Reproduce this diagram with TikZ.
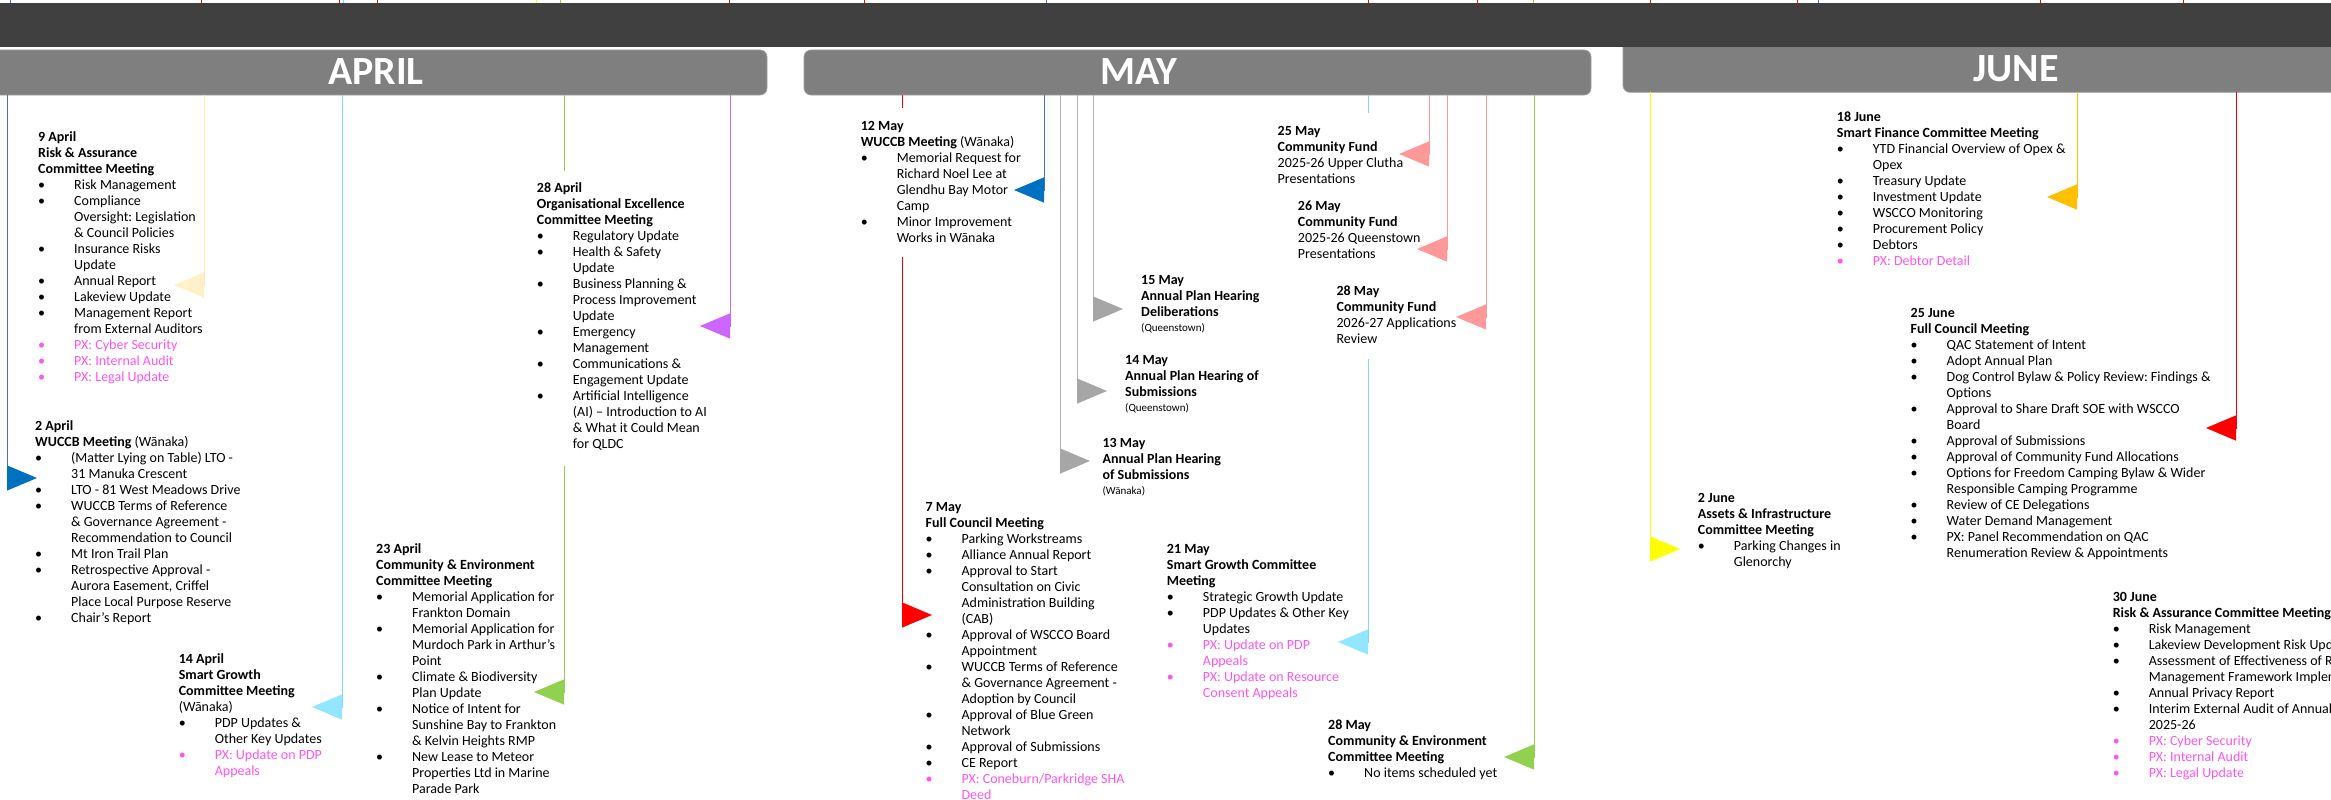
\documentclass[tikz,border=0pt]{standalone}
\usepackage{fontspec}
\setmainfont{Carlito}
\usetikzlibrary{arrows.meta}
\frenchspacing

\definecolor{darkbar}{HTML}{404040}
\definecolor{barg}{HTML}{7F7F7F}
\definecolor{pxpink}{HTML}{FF55EE}
\definecolor{blueline}{HTML}{4472C4}
\definecolor{bluetri}{HTML}{0070C0}
\definecolor{creamline}{HTML}{FFE9A8}
\definecolor{creamtri}{HTML}{FFF0C8}
\definecolor{cyanline}{HTML}{7FDBF5}
\definecolor{cyantri}{HTML}{92E6FF}
\definecolor{leaf}{HTML}{92D050}
\definecolor{lilac}{HTML}{CC66FF}
\definecolor{greyline}{HTML}{B4B4B4}
\definecolor{greytri}{HTML}{A6A6A6}
\definecolor{salmon}{HTML}{FF9999}
\definecolor{lemon}{HTML}{FFFF00}
\definecolor{amber}{HTML}{FFC000}
\definecolor{alarm}{HTML}{FF0000}

\newcommand{\bul}{\makebox[36pt][l]{\textbullet}}
\newcommand{\contd}{\hspace*{36pt}}
\newcommand{\px}[1]{{\color{pxpink}\bul #1}}
\newcommand{\venue}[1]{{\fontsize{11}{13}\selectfont #1}}

\tikzset{
  monthbar/.style={fill=barg, draw=barg!75!white, line width=0.8pt, rounded corners=7pt},
  monthlbl/.style={text=white, inner sep=0pt, font=\fontsize{40}{44}\selectfont\bfseries},
  evt/.style={anchor=base west, inner sep=0pt, font=\fontsize{14}{16}\selectfont},
  link/.style 2 args={draw=#1, line width=1pt, -{Triangle[length=30pt,width=25pt,color=#2]}},
}

\begin{document}
\begin{tikzpicture}[x=1pt,y=-1pt]
\useasboundingbox (0,0) rectangle (2331,800);
\clip (0,0) rectangle (2331,800);

% header strip and month bars
\foreach \x/\c in {10/blueline,201/alarm,339/alarm,343/cyanline,377/alarm,536/lemon,560/leaf,729/alarm,864/alarm,1046/blueline,1368/alarm,1477/alarm,1533/leaf,1650/alarm,1797/alarm,1818/blueline,2040/alarm,2183/alarm}
  \draw[\c, line width=1pt] (\x,0) -- (\x,3);
\fill[monthbar] (-40,50) rectangle (767,95);
\fill[monthbar] (804,50) rectangle (1591,95);
\fill[monthbar] (1623,30) rectangle (2420,92.3);
\fill[darkbar] (-5,3) rectangle (2340,47.3);

\node[monthlbl] (april) at (376,71.3) {APRIL};
\node[monthlbl] (may) at (1139,71.3) {MAY};
\node[monthlbl] (june) at (2016,68.3) {JUNE};

% connectors running down from the bars
\foreach \x/\ya/\yb/\side/\lc/\tc [count=\i] in {
  7/95/478/1/blueline/bluetri,
  204/95/285/-1/creamline/creamtri,
  342/95/707/-1/cyanline/cyantri,
  730/95/326/-1/lilac/lilac,
  1044/95/190/-1/blueline/bluetri,
  1093/95/309/1/greyline/greytri,
  1077/95/391/1/greyline/greytri,
  1060/95/461/1/greyline/greytri,
  1429/95/154/-1/salmon/salmon,
  1447/95/249/-1/salmon/salmon,
  1486/95/317/-1/salmon/salmon,
  1534/95/757/-1/leaf/leaf,
  1650/92.3/549/1/lemon/lemon,
  2077/92.3/197/-1/amber/amber,
  2236/92.3/428/-1/alarm/alarm}
{
  \coordinate (top\i) at (\x,\ya);
  \coordinate (bend\i) at (\x,\yb);
  \coordinate (tip\i) at ({\x+30*\side},\yb);
  \draw[link={\lc}{\tc}] (top\i) -- (bend\i) -- (tip\i);
}

% connectors that pass behind a text box
\coordinate (fcA) at (902,95);
\coordinate (fcB) at (902,108);
\coordinate (fcC) at (902,257);
\coordinate (fcD) at (902,615);
\coordinate (fcTip) at (932,615);
\draw[link={alarm}{alarm}] (fcA) -- (fcB) (fcC) -- (fcD) -- (fcTip);

\coordinate (ceA) at (564,95);
\coordinate (ceB) at (564,171);
\coordinate (ceC) at (564,466);
\coordinate (ceD) at (564,692);
\coordinate (ceTip) at (534,692);
\draw[link={leaf}{leaf}] (ceA) -- (ceB) (ceC) -- (ceD) -- (ceTip);

\coordinate (sgA) at (1368,95);
\coordinate (sgB) at (1368,113);
\coordinate (sgC) at (1368,359);
\coordinate (sgD) at (1368,642);
\coordinate (sgTip) at (1338,642);
\draw[link={cyanline}{cyantri}] (sgA) -- (sgB) (sgC) -- (sgD) -- (sgTip);

% April
\node[evt] (apr09) at (38,141.5) {\parbox[t]{400pt}{%
\textbf{9 April}\\
\textbf{Risk \& Assurance}\\
\textbf{Committee Meeting}\\
\bul Risk Management\\
\bul Compliance\\
\contd Oversight: Legislation\\
\contd \& Council Policies\\
\bul Insurance Risks\\
\contd Update\\
\bul Annual Report\\
\bul Lakeview Update\\
\bul Management Report\\
\contd from External Auditors\\
\px{PX: Cyber Security}\\
\px{PX: Internal Audit}\\
\px{PX: Legal Update}}};

\node[evt] (apr02) at (35,430.7) {\parbox[t]{400pt}{%
\textbf{2 April}\\
\textbf{WUCCB Meeting} (Wānaka)\\
\bul (Matter Lying on Table) LTO -\\
\contd 31 Manuka Crescent\\
\bul LTO - 81 West Meadows Drive\\
\bul WUCCB Terms of Reference\\
\contd \& Governance Agreement -\\
\contd Recommendation to Council\\
\bul Mt Iron Trail Plan\\
\bul Retrospective Approval -\\
\contd Aurora Easement, Criffel\\
\contd Place Local Purpose Reserve\\
\bul Chair’s Report}};

\node[evt] (apr14) at (178.6,663.7) {\parbox[t]{400pt}{%
\textbf{14 April}\\
\textbf{Smart Growth}\\
\textbf{Committee Meeting}\\
(Wānaka)\\
\bul PDP Updates \&\\
\contd Other Key Updates\\
\px{PX: Update on PDP\\\contd Appeals}}};

\node[evt] (apr23) at (376,553.7) {\parbox[t]{400pt}{%
\textbf{23 April}\\
\textbf{Community \& Environment}\\
\textbf{Committee Meeting}\\
\bul Memorial Application for\\
\contd Frankton Domain\\
\bul Memorial Application for\\
\contd Murdoch Park in Arthur’s\\
\contd Point\\
\bul Climate \& Biodiversity\\
\contd Plan Update\\
\bul Notice of Intent for\\
\contd Sunshine Bay to Frankton\\
\contd \& Kelvin Heights RMP\\
\bul New Lease to Meteor\\
\contd Properties Ltd in Marine\\
\contd Parade Park}};

\node[evt] (apr28) at (536.7,192.7) {\parbox[t]{400pt}{%
\textbf{28 April}\\
\textbf{Organisational Excellence}\\
\textbf{Committee Meeting}\\
\bul Regulatory Update\\
\bul Health \& Safety\\
\contd Update\\
\bul Business Planning \&\\
\contd Process Improvement\\
\contd Update\\
\bul Emergency\\
\contd Management\\
\bul Communications \&\\
\contd Engagement Update\\
\bul Artificial Intelligence\\
\contd (AI) – Introduction to AI\\
\contd \& What it Could Mean\\
\contd for QLDC}};

% May
\node[evt] (may12) at (860.6,130.7) {\parbox[t]{400pt}{%
\textbf{12 May}\\
\textbf{WUCCB Meeting} (Wānaka)\\
\bul Memorial Request for\\
\contd Richard Noel Lee at\\
\contd Glendhu Bay Motor\\
\contd Camp\\
\bul Minor Improvement\\
\contd Works in Wānaka}};

\node[evt] (may15) at (1141,284.7) {\parbox[t]{400pt}{%
\textbf{15 May}\\
\textbf{Annual Plan Hearing}\\
\textbf{Deliberations}\\[-1pt]
\venue{(Queenstown)}}};

\node[evt] (may14) at (1125,364.7) {\parbox[t]{400pt}{%
\textbf{14 May}\\
\textbf{Annual Plan Hearing of}\\
\textbf{Submissions}\\[-1pt]
\venue{(Queenstown)}}};

\node[evt] (may13) at (1102.4,447.7) {\parbox[t]{400pt}{%
\textbf{13 May}\\
\textbf{Annual Plan Hearing}\\
\textbf{of Submissions}\\[-1pt]
\venue{(Wānaka)}}};

\node[evt] (may07) at (925.4,511.7) {\parbox[t]{400pt}{%
\textbf{7 May}\\
\textbf{Full Council Meeting}\\
\bul Parking Workstreams\\
\bul Alliance Annual Report\\
\bul Approval to Start\\
\contd Consultation on Civic\\
\contd Administration Building\\
\contd (CAB)\\
\bul Approval of WSCCO Board\\
\contd Appointment\\
\bul WUCCB Terms of Reference\\
\contd \& Governance Agreement -\\
\contd Adoption by Council\\
\bul Approval of Blue Green\\
\contd Network\\
\bul Approval of Submissions\\
\bul CE Report\\
\px{PX: Coneburn/Parkridge SHA\\\contd Deed}}};

\node[evt] (may21) at (1166.7,553.7) {\parbox[t]{400pt}{%
\textbf{21 May}\\
\textbf{Smart Growth Committee}\\
\textbf{Meeting}\\
\bul Strategic Growth Update\\
\bul PDP Updates \& Other Key\\
\contd Updates\\
\px{PX: Update on PDP\\\contd Appeals}\\
\px{PX: Update on Resource\\\contd Consent Appeals}}};

\node[evt] (may28ce) at (1328,729.7) {\parbox[t]{400pt}{%
\textbf{28 May}\\
\textbf{Community \& Environment}\\
\textbf{Committee Meeting}\\
\bul No items scheduled yet}};

\node[evt] (may25cf) at (1277.5,135.7) {\parbox[t]{400pt}{%
\textbf{25 May}\\
\textbf{Community Fund}\\
2025-26 Upper Clutha\\
Presentations}};

\node[evt] (may26cf) at (1297.7,210.7) {\parbox[t]{400pt}{%
\textbf{26 May}\\
\textbf{Community Fund}\\
2025-26 Queenstown\\
Presentations}};

\node[evt] (may28cf) at (1336.4,295.3) {\parbox[t]{400pt}{%
\textbf{28 May}\\
\textbf{Community Fund}\\
2026-27 Applications\\
Review}};

% June
\node[evt] (jun18) at (1836.7,121.7) {\parbox[t]{400pt}{%
\textbf{18 June}\\
\textbf{Smart Finance Committee Meeting}\\
\bul YTD Financial Overview of Opex \&\\
\contd Opex\\
\bul Treasury Update\\
\bul Investment Update\\
\bul WSCCO Monitoring\\
\bul Procurement Policy\\
\bul Debtors\\
\px{PX: Debtor Detail}}};

\node[evt] (jun25) at (1910.5,317.7) {\parbox[t]{400pt}{%
\textbf{25 June}\\
\textbf{Full Council Meeting}\\
\bul QAC Statement of Intent\\
\bul Adopt Annual Plan\\
\bul Dog Control Bylaw \& Policy Review: Findings \&\\
\contd Options\\
\bul Approval to Share Draft SOE with WSCCO\\
\contd Board\\
\bul Approval of Submissions\\
\bul Approval of Community Fund Allocations\\
\bul Options for Freedom Camping Bylaw \& Wider\\
\contd Responsible Camping Programme\\
\bul Review of CE Delegations\\
\bul Water Demand Management\\
\bul PX: Panel Recommendation on QAC\\
\contd Renumeration Review \& Appointments}};

\node[evt] (jun02) at (1697.7,502.7) {\parbox[t]{400pt}{%
\textbf{2 June}\\
\textbf{Assets \& Infrastructure}\\
\textbf{Committee Meeting}\\
\bul Parking Changes in\\
\contd Glenorchy}};

\node[evt] (jun30) at (2112.6,601.7) {\parbox[t]{400pt}{%
\textbf{30 June}\\
\textbf{Risk \& Assurance Committee Meeting}\\
\bul Risk Management\\
\bul Lakeview Development Risk Update\\
\bul Assessment of Effectiveness of Risk\\
\contd Management Framework Implementation\\
\bul Annual Privacy Report\\
\bul Interim External Audit of Annual Report\\
\contd 2025-26\\
\px{PX: Cyber Security}\\
\px{PX: Internal Audit}\\
\px{PX: Legal Update}}};
\end{tikzpicture}
\end{document}
